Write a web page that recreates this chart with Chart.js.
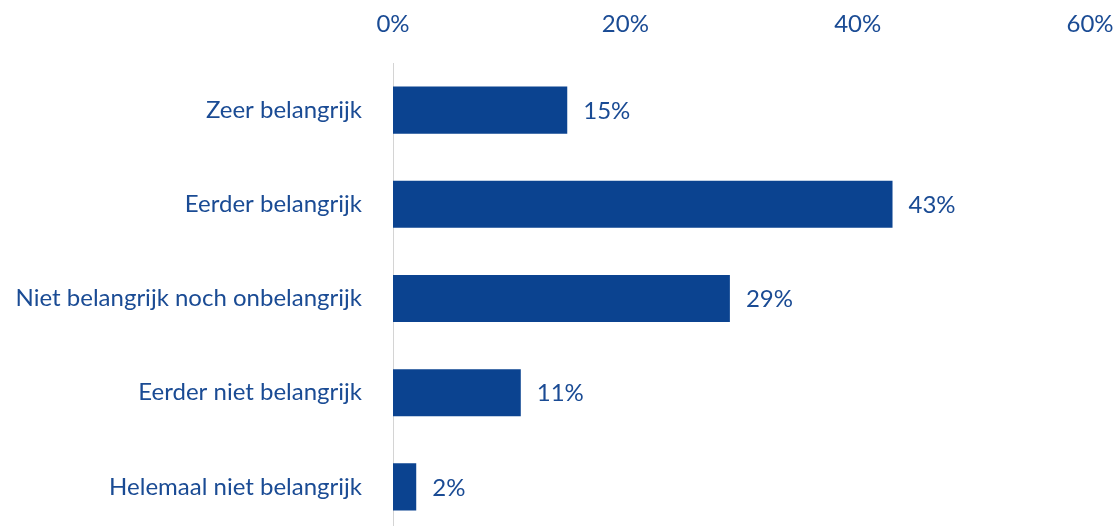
<!DOCTYPE html>
<html>
<head>
<meta charset="utf-8">
<script src="https://cdn.jsdelivr.net/npm/chart.js@4"></script>
<style>
  html, body { margin: 0; padding: 0; background: #fff; overflow: hidden; }
  canvas { display: block; }
</style>
</head>
<body>
<canvas id="barChart" width="1120" height="534"></canvas>
<script>
const categories = [
  'Zeer belangrijk',
  'Eerder belangrijk',
  'Niet belangrijk noch onbelangrijk',
  'Eerder niet belangrijk',
  'Helemaal niet belangrijk'
];
const shares = [15, 43, 29, 11, 2];
const tickValues = [0, 20, 40, 60];

const blue = '#0b4390';
const textBlue = '#1a4b94';
const fontFamily = 'Lato, "Open Sans", sans-serif';

// percentage next to the end of each bar
const valueLabels = {
  id: 'valueLabels',
  afterDatasetsDraw(chart) {
    const ctx = chart.ctx;
    const meta = chart.getDatasetMeta(0);
    ctx.save();
    ctx.fillStyle = textBlue;
    ctx.font = '24px ' + fontFamily;
    ctx.textAlign = 'left';
    ctx.textBaseline = 'middle';
    meta.data.forEach((bar, i) => {
      ctx.fillText(shares[i] + '%', bar.x + 16, bar.y + 1);
    });
    ctx.restore();
  }
};

new Chart(document.getElementById('barChart').getContext('2d'), {
  type: 'bar',
  data: {
    labels: categories,
    datasets: [{
      data: shares,
      backgroundColor: blue,
      borderWidth: 0,
      categoryPercentage: 1,
      barPercentage: 0.5
    }]
  },
  options: {
    indexAxis: 'y',
    responsive: false,
    animation: false,
    layout: { padding: { left: 0, right: 30, top: 0, bottom: 0 } },
    plugins: { legend: { display: false }, tooltip: { enabled: false } },
    scales: {
      x: {
        position: 'top',
        min: 0,
        max: 60,
        afterBuildTicks(scale) {
          scale.ticks = tickValues.map(v => ({ value: v }));
        },
        afterFit(scale) {
          scale.height = 63;
          scale.paddingLeft = 0;
          scale.paddingRight = 0;
        },
        grid: { display: false },
        border: { display: false },
        ticks: {
          color: textBlue,
          font: { family: fontFamily, size: 24 },
          padding: 16,
          callback: v => v + '%'
        }
      },
      y: {
        afterFit(scale) {
          scale.width = 393;
          scale.paddingTop = 0;
          scale.paddingBottom = 0;
        },
        grid: { display: false },
        border: { display: true, color: '#d4d4d4', width: 1 },
        ticks: {
          color: textBlue,
          font: { family: fontFamily, size: 24 },
          padding: 23
        }
      }
    }
  },
  plugins: [valueLabels]
});
</script>
</body>
</html>
